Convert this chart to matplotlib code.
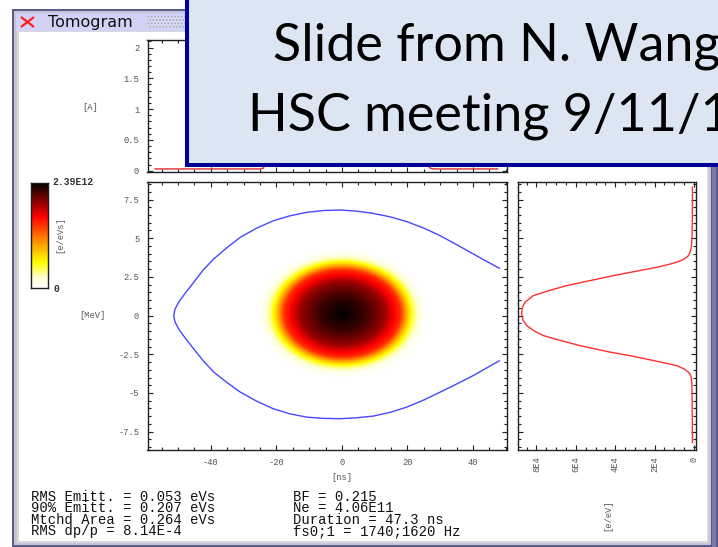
import numpy as np
import matplotlib
matplotlib.use("Agg")
import matplotlib.pyplot as plt
from matplotlib.patches import Rectangle
from matplotlib.colors import LinearSegmentedColormap
from matplotlib.ticker import MultipleLocator

plt.rcParams['axes.unicode_minus'] = False

# ---------------- data ----------------
# separatrix (time [ns], energy [MeV])
sep_t = [48.0, 44.0, 40.1, 35.0, 30.0, 25.0, 19.8, 14.7, 9.6, 4.5, -0.5, -5.6, -10.7,
         -15.8, -20.9, -26.0, -31.0, -35.0, -39.1, -42.3, -45.2, -47.8, -49.8, -50.9, -51.3,
         -50.9, -49.8, -47.8, -45.2, -42.3, -39.1, -35.0, -31.0, -26.0, -20.9, -15.8, -10.7,
         -5.6, -0.5, 4.5, 9.6, 14.7, 19.8, 25.0, 30.0, 35.0, 40.1, 44.0, 48.0]
sep_e = [3.06, 3.52, 3.98, 4.58, 5.16, 5.65, 6.07, 6.38, 6.60, 6.75, 6.82, 6.79, 6.67,
         6.45, 6.13, 5.65, 5.06, 4.40, 3.66, 2.95, 2.15, 1.45, 0.86, 0.42, 0.0,
         -0.42, -0.86, -1.45, -2.15, -2.92, -3.65, -4.33, -4.94, -5.53, -6.02, -6.35, -6.56,
         -6.64, -6.66, -6.60, -6.49, -6.25, -5.91, -5.45, -4.94, -4.42, -3.87, -3.40, -2.92]

# energy projection (energy [MeV], density [e/eV])
prof_e = [8.3, 6.5, 5.0, 4.4, 4.1, 3.9, 3.77, 3.6, 3.45, 3.3, 3.12, 2.85, 2.58, 2.2, 1.94,
          1.6, 1.29, 0.86, 0.5, 0.11, -0.3, -0.65, -1.0, -1.29, -1.6, -1.94, -2.36, -2.6,
          -2.90, -3.1, -3.23, -3.45, -3.65, -3.8, -3.97, -4.3, -5.0, -6.5, -8.2]
prof_v = [800, 850, 1000, 1400, 2000, 2700, 3700, 5800, 8800, 13000, 18900, 30000, 41000,
          55000, 64600, 74000, 81600, 85800, 87200, 87500, 86800, 84900, 81000, 76500, 68000,
          57900, 42600, 32000, 20700, 13500, 8800, 5000, 2900, 2000, 1500, 1150, 1000, 900, 800]

# line-density (current) profile [ns], [A]; the middle is hidden under the slide box
cur_t = [-57.0, -45.0, -35.0, -25.0, -24.0, -23.0, -21.0, -17.0, -12.0, -6.0, 0.0,
         6.0, 12.0, 17.0, 22.0, 25.0, 27.0, 28.0, 38.0, 47.5]
cur_a = [0.03, 0.03, 0.03, 0.03, 0.04, 0.15, 0.5, 1.1, 1.6, 1.9, 2.0,
         1.9, 1.6, 1.1, 0.5, 0.15, 0.04, 0.03, 0.03, 0.03]

# tomogram: radial density shape (normalised radius, fraction of peak)
rad_r = [0.0, 0.3, 0.45, 0.58, 0.7, 0.81, 0.86, 0.93, 1.0, 1.1, 1.2, 3.0]
rad_d = [1.0, 0.93, 0.87, 0.81, 0.70, 0.60, 0.47, 0.30, 0.16, 0.04, 0.0, 0.0]
blob_t0 = 0.0       # ns
blob_e0 = 0.1       # MeV
blob_rt = 22.0      # ns
blob_re = 3.5       # MeV
peak_density = 2.39e12

stats_left = ["RMS Emitt. = 0.053 eVs", "90% Emitt. = 0.207 eVs",
              "Mtchd Area = 0.264 eVs", "RMS dp/p = 8.14E-4"]
stats_right = ["BF = 0.215", "Ne = 4.06E11", "Duration = 47.3 ns",
               "fs0;1 = 1740;1620 Hz"]

t_ticks = [-40, -20, 0, 20, 40]
e_ticks = [-7.5, -5, -2.5, 0, 2.5, 5, 7.5]
e_ticklabels = ["-7.5", "-5", "-2.5", "0", "2.5", "5", "7.5"]
a_ticks = [0, 0.5, 1, 1.5, 2]
a_ticklabels = ["0", "0.5", "1", "1.5", "2"]
d_ticks = [0, 2e4, 4e4, 6e4, 8e4]
d_ticklabels = ["0", "2E4", "4E4", "6E4", "8E4"]

# ---------------- figure ----------------
W, H = 718, 547
fig = plt.figure(figsize=(W / 100, H / 100), dpi=100)


def frac(x0, y0, x1, y1):
    return [x0 / W, 1 - y1 / H, (x1 - x0) / W, (y1 - y0) / H]


bg = fig.add_axes([0, 0, 1, 1], zorder=0)
bg.set_xlim(0, W)
bg.set_ylim(H, 0)
bg.axis('off')


def box(ax, x0, y0, x1, y1, **kw):
    ax.add_patch(Rectangle((x0, y0), x1 - x0, y1 - y0, lw=0, **kw))


# window frame
box(bg, 12, 9, 718, 547, fc='#5c5c8c')
box(bg, 14, 11, 711, 545, fc='#c4c4d8')
box(bg, 712, 11, 716, 547, fc='#7a7aaa')
box(bg, 16, 13, 709, 31, fc='#d2d2f6')
box(bg, 17, 31, 709, 543, fc='#d8d8d8')
box(bg, 19, 32, 707, 541, fc='white')
bg.add_patch(Rectangle((147, 16), 40, 12, fc='#dcdcf0', ec='#a8a8c8', hatch='.....', lw=0))
bg.plot([21, 34], [17, 27], color='#ff2020', lw=1.6, solid_capstyle='butt')
bg.plot([21, 34], [27, 17], color='#ff2020', lw=1.6, solid_capstyle='butt')
bg.text(48, 22.5, "Tomogram", fontsize=11.5, family='DejaVu Sans', va='center', ha='left',
        color='#101010')

mono = 'Liberation Mono'
lab_col = '#555555'
tick_fs = 6.3


def style(ax):
    for s in ax.spines.values():
        s.set_linewidth(1.0)
        s.set_color('#202020')
    ax.tick_params(which='both', direction='in', top=True, right=True,
                   labelcolor=lab_col, labelsize=tick_fs, color='#202020', width=0.8)
    ax.tick_params(which='major', length=3.5, pad=6)
    ax.tick_params(which='minor', length=2.2)
    for lbl in ax.get_xticklabels() + ax.get_yticklabels():
        lbl.set_family(mono)


# ---- main phase-space plot ----
ax = fig.add_axes(frac(147.5, 181.7, 506.5, 449.5), zorder=2)
tt = np.linspace(-62, 53, 460)
ee = np.linspace(-9, 9, 360)
T, E = np.meshgrid(tt, ee)
R = np.sqrt(((T - blob_t0) / blob_rt) ** 2 + ((E - blob_e0) / blob_re) ** 2)
img = np.interp(R, rad_r, rad_d) * peak_density
cmap = LinearSegmentedColormap.from_list('tomo', [
    (0.0, '#ffffff'), (0.1, '#ffffd0'), (0.24, '#ffff00'), (0.45, '#ff8c00'),
    (0.68, '#ff0000'), (0.85, '#780000'), (1.0, '#000000')])
ax.imshow(img, extent=[tt[0], tt[-1], ee[0], ee[-1]], origin='lower', cmap=cmap,
          vmin=0, vmax=peak_density, aspect='auto', interpolation='bilinear')
ax.plot(sep_t, sep_e, color='#4848ff', lw=1.0)
ax.set_xlim(-59.3, 50.2)
ax.set_ylim(-8.65, 8.65)
ax.set_xticks(t_ticks)
ax.set_xticklabels([str(v) for v in t_ticks])
ax.set_yticks(e_ticks)
ax.set_yticklabels(e_ticklabels)
ax.xaxis.set_minor_locator(MultipleLocator(5))
ax.yaxis.set_minor_locator(MultipleLocator(0.5))
style(ax)
ax.tick_params(axis='x', which='major', pad=6)

# ---- top current plot ----
axt = fig.add_axes(frac(147.5, 39.5, 506.5, 172.0), zorder=2)
axt.plot(cur_t, cur_a, color='#e03030', lw=1.0)
axt.set_xlim(-59.3, 50.2)
axt.set_ylim(-0.02, 2.13)
axt.set_xticks(t_ticks)
axt.set_xticklabels([])
axt.set_yticks(a_ticks)
axt.set_yticklabels(a_ticklabels)
axt.xaxis.set_minor_locator(MultipleLocator(5))
axt.yaxis.set_minor_locator(MultipleLocator(0.1))
style(axt)

# ---- right energy projection ----
axr = fig.add_axes(frac(518.3, 181.7, 696.0, 449.5), zorder=2)
axr.plot(prof_v, prof_e, color='#ff3030', lw=1.0)
axr.set_xlim(8.92e4, -1000)
axr.set_ylim(-8.65, 8.65)
axr.set_xticks(d_ticks)
axr.set_xticklabels(d_ticklabels, rotation=90)
axr.set_yticks(e_ticks)
axr.set_yticklabels([])
axr.xaxis.set_minor_locator(MultipleLocator(5000))
axr.yaxis.set_minor_locator(MultipleLocator(0.5))
style(axr)
axr.tick_params(axis='x', which='major', pad=5)

# ---- colour bar ----
cax = fig.add_axes(frac(31, 183, 48, 288), zorder=2)
cax.imshow(np.linspace(0, 1, 256)[:, None], origin='lower', cmap=cmap, aspect='auto',
           extent=[0, 1, 0, peak_density])
cax.set_xticks([])
cax.set_yticks([])
for s in cax.spines.values():
    s.set_linewidth(1.0)
    s.set_color('#202020')

# ---- axis labels and texts ----
small = dict(family=mono, fontsize=6.3, color=lab_col, va='center')
bg.text(90, 107, "[A]", ha='center', **small)
bg.text(92, 316, "[MeV]", ha='center', **small)
bg.text(342, 477, "[ns]", ha='center', **small)
bg.text(608, 515, "[e/eV]", ha='center', rotation=90, **small)
bg.text(60, 235, "[e/eVs]", ha='center', rotation=90, **small)
bg.text(52, 182, "2.39E12", family=mono, fontsize=7, color='#333333', va='center', ha='left',
        fontweight='bold')
bg.text(53, 288.5, "0", family=mono, fontsize=7, color='#333333', va='center', ha='left',
        fontweight='bold')

ys = [497, 508.5, 520, 531.5]
for y, a, b in zip(ys, stats_left, stats_right):
    bg.text(31, y, a, family=mono, fontsize=10, va='center', ha='left', color='#111111')
    bg.text(293, y, b, family=mono, fontsize=10, va='center', ha='left', color='#111111')

# ---- slide overlay ----
ov = fig.add_axes([0, 0, 1, 1], zorder=10)
ov.set_xlim(0, W)
ov.set_ylim(H, 0)
ov.axis('off')
ov.patch.set_alpha(0)
ov.add_patch(Rectangle((187, -20), 700, 185, fc='#dce6f2', ec='#000099', lw=2.9))
ov.text(273, 61, "Slide from N. Wang", family='Lato', fontsize=37.5, va='baseline',
        ha='left', color='black')
ov.text(248, 130, "HSC meeting 9/11/1", family='Lato', fontsize=37.5, va='baseline',
        ha='left', color='black')

fig.savefig("out.png", dpi=100)
